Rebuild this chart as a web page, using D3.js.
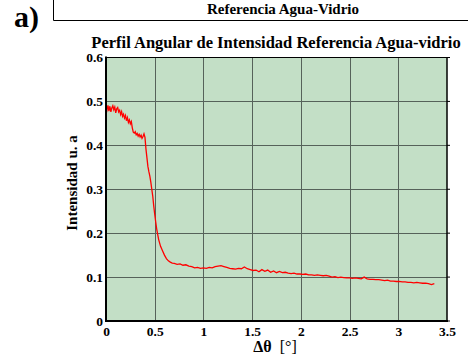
<!DOCTYPE html>
<html><head><meta charset="utf-8">
<script src="https://cdn.jsdelivr.net/npm/d3@7/dist/d3.min.js"></script>
<style>
html,body{margin:0;padding:0;background:#fff;}
svg{display:block;}
text{font-family:"Liberation Serif","Times New Roman",serif;font-weight:bold;fill:#000;}
</style></head><body>
<script>
const angles = [0.00,0.01,0.02,0.03,0.04,0.05,0.06,0.07,0.08,0.09,0.10,0.11,0.12,0.13,0.14,0.15,0.16,0.17,0.18,0.19,
0.20,0.21,0.22,0.23,0.24,0.25,0.26,0.27,0.28,0.29,0.30,0.31,0.32,0.33,0.34,0.35,0.36,0.37,0.38,0.39,
0.40,0.41,0.42,0.43,0.44,0.45,0.46,0.47,0.48,0.49,0.50,0.51,0.52,0.53,0.54,0.55,0.56,0.58,0.60,0.62,
0.64,0.66,0.68,0.70,0.73,0.76,0.79,0.82,0.85,0.88,0.91,0.94,0.97,1.00,1.03,1.06,1.09,1.12,1.15,1.18,
1.21,1.24,1.27,1.30,1.33,1.36,1.39,1.42,1.45,1.48,1.51,1.54,1.57,1.60,1.63,1.66,1.69,1.72,1.75,1.78,
1.81,1.84,1.87,1.90,1.93,1.96,1.99,2.02,2.05,2.08,2.11,2.14,2.17,2.20,2.23,2.26,2.29,2.32,2.35,2.38,
2.41,2.44,2.47,2.50,2.53,2.56,2.59,2.62,2.65,2.68,2.71,2.74,2.77,2.80,2.83,2.86,2.89,2.92,2.95,2.98,
3.01,3.04,3.07,3.10,3.13,3.16,3.19,3.22,3.25,3.28,3.31,3.34,3.37];
const intensity = [0.486,0.480,0.491,0.478,0.489,0.476,0.485,0.490,0.481,0.487,0.474,0.483,0.486,0.476,0.480,0.470,0.477,0.466,0.471,0.462,
0.468,0.456,0.463,0.452,0.458,0.449,0.454,0.440,0.430,0.428,0.431,0.424,0.427,0.421,0.425,0.419,0.423,0.416,0.420,0.426,
0.418,0.392,0.372,0.352,0.340,0.330,0.316,0.300,0.284,0.262,0.243,0.226,0.210,0.198,0.186,0.178,0.170,0.160,0.150,0.142,
0.137,0.134,0.132,0.131,0.129,0.130,0.127,0.128,0.125,0.124,0.121,0.122,0.120,0.121,0.120,0.122,0.121,0.124,0.125,0.126,
0.124,0.122,0.120,0.119,0.118,0.120,0.119,0.123,0.119,0.117,0.115,0.116,0.112,0.117,0.113,0.116,0.111,0.114,0.110,0.113,
0.110,0.111,0.109,0.108,0.109,0.107,0.107,0.106,0.107,0.105,0.105,0.104,0.105,0.104,0.103,0.104,0.102,0.100,0.101,0.099,
0.100,0.099,0.098,0.098,0.097,0.098,0.097,0.096,0.100,0.096,0.095,0.095,0.094,0.094,0.093,0.092,0.093,0.091,0.091,0.090,
0.090,0.089,0.089,0.088,0.088,0.087,0.088,0.087,0.086,0.086,0.085,0.083,0.085];
const xTicks = [0,0.5,1,1.5,2,2.5,3,3.5];
const xTickLabels = ["0","0.5","1","1.5","2","2.5","3","3.5"];
const yTicks = [0,0.1,0.2,0.3,0.4,0.5,0.6];
const yTickLabels = ["0","0.1","0.2","0.3","0.4","0.5","0.6"];
const panelLabel = "a)";
const headerTitle = "Referencia Agua-Vidrio";
const chartTitle = "Perfil Angular de Intensidad Referencia Agua-vidrio";
const yLabel = "Intensidad u. a";

const W = 468, H = 359;
const L = 106, R = 447, T = 57.5, B = 321;
const svg = d3.select("body").append("svg").attr("width", W).attr("height", H);

const x = d3.scaleLinear().domain([0, 3.5]).range([L, R]);
const y = d3.scaleLinear().domain([0, 0.6]).range([B, T]);

// header box
svg.append("path").attr("d", `M53.5,0 V20.5 H468`).attr("fill","none").attr("stroke","#000").attr("stroke-width",1);
svg.append("text").attr("x", 283).attr("y", 14).attr("text-anchor","middle").style("font-size","15px").text(headerTitle);
svg.append("text").attr("x", 14).attr("y", 27).style("font-size","30px").text(panelLabel);

// title
svg.append("text").attr("x", 276).attr("y", 47.5).attr("text-anchor","middle").style("font-size","16.5px").text(chartTitle);

// background
svg.append("rect").attr("x", L).attr("y", T).attr("width", R-L).attr("height", B-T).attr("fill", "#c3dfc6");

// grid
svg.append("g").selectAll("line").data(xTicks.slice(1, -1)).join("line")
  .attr("x1", d => Math.round(x(d))+0.5).attr("x2", d => Math.round(x(d))+0.5)
  .attr("y1", T).attr("y2", B).attr("stroke", "#56625a").attr("stroke-width", 1);
svg.append("g").selectAll("line").data(yTicks.slice(1, -1)).join("line")
  .attr("y1", d => Math.round(y(d))+0.5).attr("y2", d => Math.round(y(d))+0.5)
  .attr("x1", L).attr("x2", R).attr("stroke", "#56625a").attr("stroke-width", 1);

// line
const line = d3.line().x((d,i) => x(angles[i])).y(d => y(d));
svg.append("path").datum(intensity).attr("d", line).attr("fill","none").attr("stroke","#ff0000").attr("stroke-width",1.3);

// frame
svg.append("line").attr("x1", L).attr("x2", R).attr("y1", T).attr("y2", T).attr("stroke","#000").attr("stroke-width",1);
svg.append("line").attr("x1", R).attr("x2", R).attr("y1", T).attr("y2", B).attr("stroke","#000").attr("stroke-width",1.5);
svg.append("line").attr("x1", L).attr("x2", R+1).attr("y1", B).attr("y2", B).attr("stroke","#000").attr("stroke-width",2);
svg.append("line").attr("x1", L).attr("x2", L).attr("y1", T-1).attr("y2", B+1).attr("stroke","#000").attr("stroke-width",2);

// axes (labels)
const xAxis = d3.axisBottom(x).tickValues(xTicks).tickFormat((d,i) => xTickLabels[i]).tickSize(0).tickPadding(5);
const gx = svg.append("g").attr("transform", `translate(0,${B})`).call(xAxis);
gx.select(".domain").remove();
gx.selectAll("text").style("font-size","13.5px").style("font-family","Liberation Serif").style("font-weight","bold");

const yAxis = d3.axisLeft(y).tickValues(yTicks).tickFormat((d,i) => yTickLabels[i]).tickSize(0).tickPadding(3);
const gy = svg.append("g").attr("transform", `translate(${L},0)`).call(yAxis);
gy.select(".domain").remove();
gy.selectAll("text").style("font-size","13.5px").style("font-family","Liberation Serif").style("font-weight","bold");

// right ticks
svg.append("g").selectAll("line").data(yTicks).join("line")
  .attr("x1", R).attr("x2", R+3).attr("y1", d => y(d)).attr("y2", d => y(d)).attr("stroke","#000");

// axis labels
const xl = svg.append("text").attr("x", 275).attr("y", 352).attr("text-anchor","middle").style("font-size","16px");
xl.append("tspan").text("Δθ");
xl.append("tspan").style("font-weight","normal").text("  [°]").attr("xml:space","preserve");
svg.append("text").attr("transform", "translate(77,183) rotate(-90)").attr("text-anchor","middle").style("font-size","15px").text(yLabel);
</script>
</body></html>
